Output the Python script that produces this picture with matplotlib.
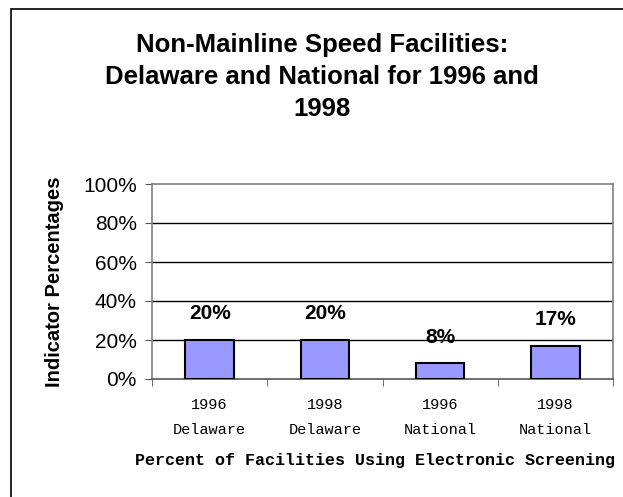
import matplotlib as mpl
mpl.use('Agg')
import matplotlib.pyplot as plt
from matplotlib.patches import Rectangle
from matplotlib.ticker import FixedLocator

years = ["1996", "1998", "1996", "1998"]
regions = ["Delaware", "Delaware", "National", "National"]
values = [20, 20, 8, 17]
y_ticks = [0, 20, 40, 60, 80, 100]

W, H = 623, 497
fig = plt.figure(figsize=(W / 100, H / 100), dpi=100)

# outer frame, runs off the right and bottom edges
fig.patches.append(Rectangle((11 / W, -0.1), 1.2, 1 - 9 / H + 0.1,
                             transform=fig.transFigure, fill=False,
                             edgecolor='black', linewidth=1.2))

ax = fig.add_axes([152 / W, 1 - 379 / H, (613 - 152) / W, (379 - 184) / H])

x = list(range(len(values)))
bars = ax.bar(x, values, width=0.42, color='#9999FF', edgecolor='black',
              linewidth=1.5, zorder=3)
ax.bar_label(bars, labels=[f"{v}%" for v in values], padding=12,
             fontsize=15, fontweight='bold', family='Liberation Sans')

ax.set_xlim(-0.5, len(values) - 0.5)
ax.set_ylim(0, 100)
ax.set_yticks(y_ticks)
ax.set_yticklabels([f"{t}%" for t in y_ticks], family='Liberation Sans',
                   fontsize=15)
for t in y_ticks[1:-1]:
    ax.axhline(t, color='black', linewidth=1, zorder=1)

ax.set_xticks(x)
ax.set_xticklabels([f"{y}\n{r}" for y, r in zip(years, regions)],
                   family='Liberation Mono', fontsize=11, linespacing=1.95)
ax.xaxis.set_minor_locator(FixedLocator([i - 0.5 for i in range(len(values) + 1)]))
ax.tick_params(axis='x', which='major', length=0, pad=14)
ax.tick_params(axis='x', which='minor', length=5, direction='out', color='#555555')
ax.tick_params(axis='y', length=5, direction='out', color='#555555', pad=6)

for s in ax.spines.values():
    s.set_color('#808080')
    s.set_linewidth(1.2)
ax.spines['bottom'].set_color('#555555')

fig.text(375 / W, 1 - 460 / H, "Percent of Facilities Using Electronic Screening",
         ha='center', va='center', family='Liberation Mono',
         fontweight='bold', fontsize=12)
ax.set_ylabel("Indicator Percentages", family='Liberation Sans',
              fontweight='bold', fontsize=14.5, labelpad=14)

fig.text(322 / W, 1 - 77 / H,
         "Non-Mainline Speed Facilities:\nDelaware and National for 1996 and\n1998",
         ha='center', va='center', family='Liberation Sans', fontweight='bold',
         fontsize=18.5, linespacing=1.42)

fig.savefig('out.png', dpi=100)
